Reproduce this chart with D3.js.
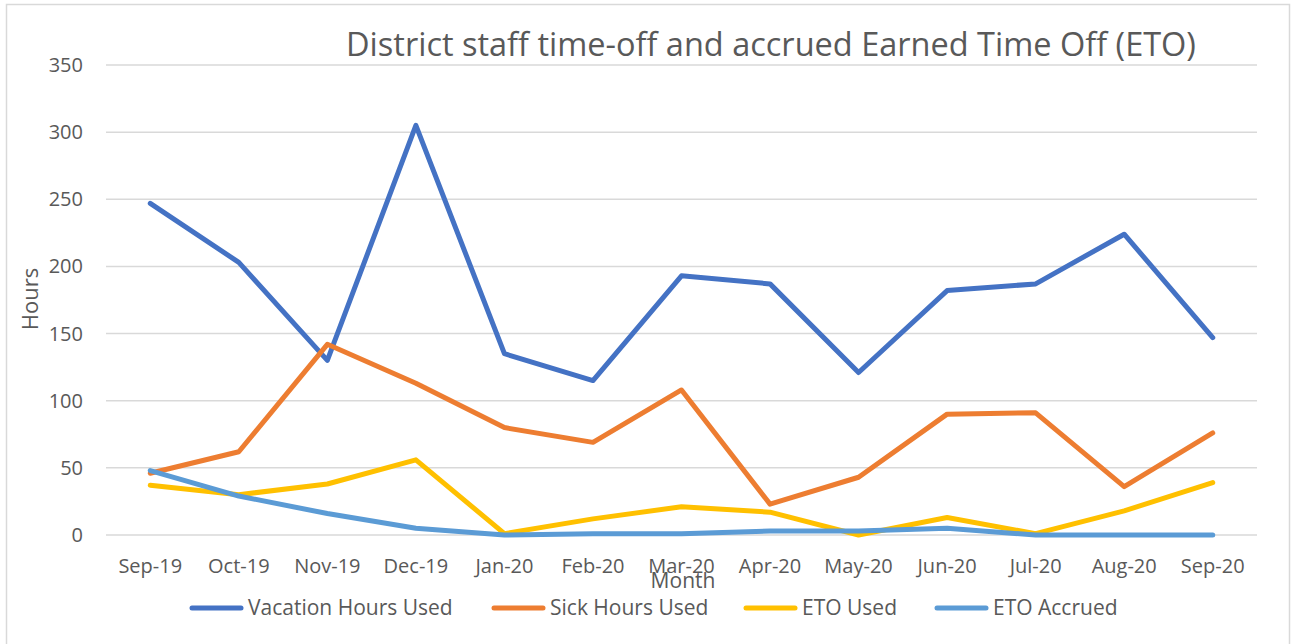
<!DOCTYPE html>
<html>
<head>
    <title>District staff time-off</title>
    <script src="https://cdn.jsdelivr.net/npm/d3@7"></script>
    <style>
        body { margin: 0; background: #fff; }
        text { font-family: 'Open Sans', sans-serif; fill: #595959; }
    </style>
</head>
<body>
    <svg width="1297" height="644" id="mainsvg"></svg>
    <script>
        // data
        const months = ['Sep-19', 'Oct-19', 'Nov-19', 'Dec-19', 'Jan-20', 'Feb-20', 'Mar-20',
                        'Apr-20', 'May-20', 'Jun-20', 'Jul-20', 'Aug-20', 'Sep-20'];
        const vacationHours = [247, 203, 130, 305, 135, 115, 193, 187, 121, 182, 187, 224, 147];
        const sickHours     = [46, 62, 142, 113, 80, 69, 108, 23, 43, 90, 91, 36, 76];
        const etoUsed       = [37, 30, 38, 56, 1, 12, 21, 17, 0, 13, 1, 18, 39];
        const etoAccrued    = [48, 29, 16, 5, 0, 1, 1, 3, 3, 5, 0, 0, 0];
        const yTicks = [0, 50, 100, 150, 200, 250, 300, 350];

        const seriesNames = ['Vacation Hours Used', 'Sick Hours Used', 'ETO Used', 'ETO Accrued'];
        const seriesColors = ['#4472C4', '#ED7D31', '#FFC000', '#5B9BD5'];
        const series = [vacationHours, sickHours, etoUsed, etoAccrued];

        const svg = d3.select('svg');
        const width = +svg.attr('width');
        const height = +svg.attr('height');
        const plotLeft = 106, plotRight = 1257, plotTop = 65, plotBottom = 535;

        // chart border
        svg.append('rect').attr('x', 6.5).attr('y', 4.5).attr('width', 1283).attr('height', 660)
            .attr('fill', 'none').attr('stroke', '#d9d9d9').attr('stroke-width', 1.5);

        const x = d3.scalePoint().domain(months).range([plotLeft, plotRight]).padding(0.5);
        const y = d3.scaleLinear().domain([0, 350]).range([plotBottom, plotTop]);

        // gridlines
        svg.append('g').selectAll('line').data(yTicks).join('line')
            .attr('x1', plotLeft).attr('x2', plotRight)
            .attr('y1', d => y(d)).attr('y2', d => y(d))
            .attr('stroke', '#d9d9d9').attr('stroke-width', 1.5);

        // y tick labels
        svg.append('g').selectAll('text').data(yTicks).join('text')
            .attr('x', 83).attr('y', d => y(d)).attr('dy', '0.35em')
            .attr('text-anchor', 'end').attr('font-size', 20).text(d => d);

        // x tick labels
        svg.append('g').selectAll('text').data(months).join('text')
            .attr('x', d => x(d)).attr('y', 573)
            .attr('text-anchor', 'middle').attr('font-size', 20).text(d => d);

        // lines
        const line = d3.line().x((d, i) => x(months[i])).y(d => y(d));
        svg.append('g').selectAll('path').data(series).join('path')
            .attr('d', d => line(d))
            .attr('fill', 'none')
            .attr('stroke', (d, i) => seriesColors[i])
            .attr('stroke-width', 5)
            .attr('stroke-linejoin', 'round')
            .attr('stroke-linecap', 'round');

        // title
        svg.append('text').attr('x', 771).attr('y', 56).attr('text-anchor', 'middle')
            .attr('font-size', 32.5).text('District staff time-off and accrued Earned Time Off (ETO)');

        // axis titles
        svg.append('text').attr('x', 683).attr('y', 588).attr('text-anchor', 'middle')
            .attr('font-size', 21).text('Month');
        svg.append('text').attr('transform', 'translate(38,299) rotate(-90)')
            .attr('text-anchor', 'middle').attr('font-size', 22).text('Hours');

        // legend
        const legendX = [190, 492, 744, 935];
        const legend = svg.append('g').selectAll('g').data(seriesNames).join('g')
            .attr('transform', (d, i) => `translate(${legendX[i]},608)`);
        legend.append('line').attr('x1', 2).attr('x2', 51).attr('y1', 0).attr('y2', 0)
            .attr('stroke', (d, i) => seriesColors[i]).attr('stroke-width', 5)
            .attr('stroke-linecap', 'round');
        legend.append('text').attr('x', 58).attr('y', 0).attr('dy', '0.35em')
            .attr('font-size', 21).text(d => d);
    </script>
</body>
</html>
